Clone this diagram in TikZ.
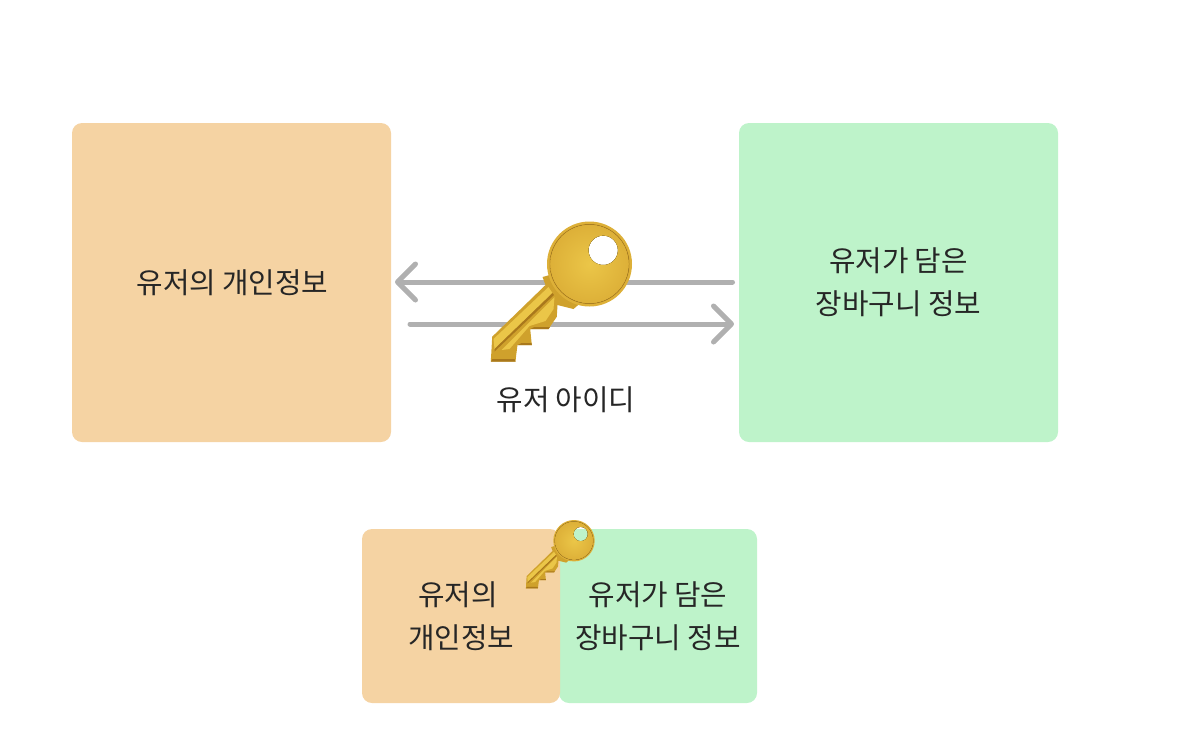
\documentclass[tikz,border=0pt]{standalone}
\usepackage{fontspec}
\setmainfont{Noto Sans CJK KR}
\usetikzlibrary{arrows.meta}
\definecolor{orangebox}{HTML}{F5D3A3}
\definecolor{greenbox}{HTML}{BEF3CA}
\definecolor{arrowgrey}{HTML}{B0B0B0}
\definecolor{ink}{HTML}{262626}
\definecolor{goldA}{HTML}{EBC648}
\definecolor{goldB}{HTML}{DDB038}
\definecolor{goldC}{HTML}{A9781C}
\definecolor{goldE}{HTML}{CFA12C}
\tikzset{
  x=0.75pt,y=-0.75pt,
  box/.style={draw=none,rounded corners=7.5pt,inner sep=0pt,outer sep=0pt,align=center,
     font=\fontsize{21.6pt}{32.25pt}\selectfont,text=ink},
  bigbox/.style={box,minimum width=239.25pt,minimum height=239.25pt},
  smallbox/.style={box,minimum width=148.5pt,minimum height=130.5pt},
  link/.style={arrowgrey,line width=3.75pt,line cap=round,
     -{Straight Barb[length=13.5pt,width=27pt,round,line width=3.75pt]}},
  lbl/.style={font=\fontsize{21.6pt}{32.25pt}\selectfont,text=ink,inner sep=0pt},
  keypic/.pic={
    % blade
    \fill[goldE]
      (-47,13) -- (-44,21) -- (-97.3,72.7) -- (-98.7,97.7) -- (-74,97.7) -- (-73.3,91)
      -- (-72,81) -- (-57.7,81) -- (-59.3,65) -- (-41,65)
      -- (-32.7,52.7) -- (-32,41) -- (-16,45) -- (-9,39) -- (0,0) -- cycle;
    \fill[goldA] (-41,23) -- (-96,75) -- (-95,85) -- (-37,29) -- cycle;
    \fill[goldC] (-37,29) -- (-95,85) -- (-95,87.5) -- (-35.5,31) -- cycle;
    \fill[goldA] (-35,33) -- (-88,86) -- (-80,85) -- (-60,62) -- (-44,57) -- (-36,45) -- cycle;
    \fill[goldC] (-97,95) -- (-75,95) -- (-74,97.7) -- (-98.7,97.7) -- cycle;
    \fill[goldC] (-72,81) -- (-57.7,81) -- (-58,79) -- (-68,79) -- cycle;
    \fill[goldC] (-59.3,65) -- (-41,65) -- (-39.5,63) -- (-55,63) -- cycle;
    % head with hole
    \path[even odd rule,fill=goldB]
      (0,0) circle[radius=42.5] (13.7,-13.7) circle[radius=14.7];
    \path[even odd rule,inner color=goldA,outer color=goldB,fill]
      (0,0) circle[radius=39.5] (13.7,-13.7) circle[radius=14.7];
    \path[even odd rule,fill=goldC,fill opacity=.6]
      (0,0) circle[radius=40] (0,0) circle[radius=39.3];
  }
}
\begin{document}
\begin{tikzpicture}
\useasboundingbox (0,0) rectangle (1178,744);
\node[bigbox,fill=orangebox] (privL) at (231.5,282.5) {\hspace*{1.5pt}유저의 개인정보};
\node[bigbox,fill=greenbox]  (cartL) at (898.5,282.5) {유저가 담은\\장바구니 정보};
\coordinate (a1s) at (732.5,282);
\coordinate (a1e) at (395,282);
\coordinate (a2s) at (410,324);
\coordinate (a2e) at (734,324);
\draw[link] (a1s) -- (a1e);
\draw[link] (a2s) -- (a2e);
\pic at (589.5,264) {keypic};
\node[lbl] (keylabel) at (566,399.5) {유저 아이디};
\node[smallbox,fill=greenbox] (cartS) at (658,616) {유저가 담은\\장바구니 정보};
\node[smallbox,fill=orangebox] (privS) at (461,616) {유저의\hspace*{0.22em}\\개인정보};
\pic[scale=0.487] at (574,540.7) {keypic};
\end{tikzpicture}
\end{document}
